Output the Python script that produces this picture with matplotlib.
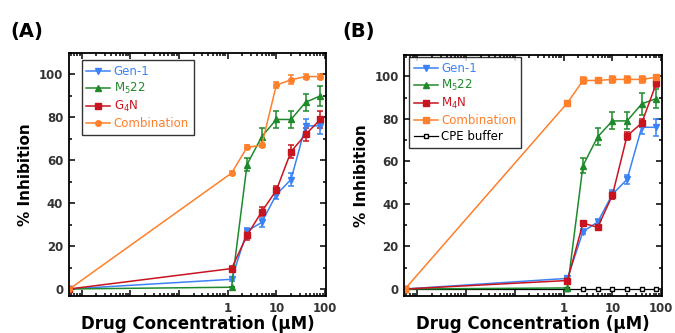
import numpy as np
import matplotlib
matplotlib.use("Agg")
import matplotlib.pyplot as plt
from matplotlib.ticker import LogLocator, MultipleLocator, FuncFormatter, NullFormatter

# concentrations (uM); the first point is "0", drawn at the left edge of the log axis
zero_pos = 0.00056
conc = [zero_pos, 1.2, 2.5, 5, 10, 20, 40, 80]

# panel A
gen1_a = [0, 4.5, 27, 31, 44, 51, 76, 76]
gen1_a_err = [0, 1, 1.5, 2, 2, 3, 3, 4]
m522_a = [0, 0.8, 58, 71, 79, 79, 87, 90]
m522_a_err = [0, 0, 3, 4, 4, 4, 4, 4.5]
g4n_a = [0, 9.5, 25, 36, 46, 64, 72, 79]
g4n_a_err = [0, 1, 2, 2, 2, 3, 3, 4]
combo_a = [0, 54, 66, 67, 95, 97.5, 99, 99]
combo_a_err = [0, 1, 1, 1, 1.5, 2, 1, 1]

# panel B
gen1_b = [0, 5, 27, 31.5, 44.5, 51.5, 76, 76]
gen1_b_err = [0, 1, 1, 1.5, 2, 2, 3, 4]
m522_b = [0, 0.5, 58, 71.5, 79, 79, 87, 89.5]
m522_b_err = [0, 0, 3.5, 4, 4, 4, 5, 4.5]
m4n_b = [0, 4, 31, 29, 44, 72, 78, 96.8]
m4n_b_err = [0, 1, 1, 1, 1.5, 2, 2, 2]
combo_b = [0, 87.5, 98, 98, 98.5, 98.5, 98.5, 99.5]
combo_b_err = [0, 1, 1.5, 1, 1.5, 1.5, 1.5, 1]
cpe_b = [0, 0, 0, 0, 0, 0, 0, 0]

blue = "#3b82f6"
green = "#1f8a2b"
red = "#c8141e"
orange = "#ff7f2a"

fig = plt.figure(figsize=(6.75, 3.33), dpi=100)
ax_a = fig.add_axes([0.102, 0.111, 0.381, 0.730])
ax_b = fig.add_axes([0.599, 0.111, 0.382, 0.724])


def draw_series(ax, y, err, color, marker, ms=4, mfc=None):
    eb = ax.errorbar(conc, y, yerr=err, color=color, marker=marker, ms=ms, lw=1.1,
                     elinewidth=1.1, capsize=2.5, capthick=1.1,
                     mfc=mfc if mfc else color, mec=color)
    return eb[0]


def style_axes(ax):
    ax.set_xscale("log")
    ax.set_xlim(zero_pos * 0.97, 105)
    ax.set_ylim(-3.3, 110)
    ax.xaxis.set_major_locator(LogLocator(base=10, numticks=20))
    ax.xaxis.set_minor_locator(LogLocator(base=10, subs=np.arange(2, 10), numticks=20))
    ax.xaxis.set_major_formatter(FuncFormatter(lambda v, p: f"{v:g}" if v >= 1 else ""))
    ax.xaxis.set_minor_formatter(NullFormatter())
    ax.set_yticks([0, 20, 40, 60, 80, 100])
    ax.yaxis.set_minor_locator(MultipleLocator(10))
    ax.tick_params(which="both", direction="in", top=True, right=True, width=1.1)
    ax.tick_params(which="major", length=4, labelsize=8.5, labelcolor="#333333", pad=4)
    ax.tick_params(which="minor", length=2.5)
    for lab in ax.get_xticklabels() + ax.get_yticklabels():
        lab.set_fontweight("bold")
    for sp in ax.spines.values():
        sp.set_linewidth(1.3)
    ax.set_ylabel("% Inhibition", fontsize=11, fontweight="bold", labelpad=4)
    ax.set_xlabel("Drug Concentration (\u00b5M)", fontsize=12, fontweight="bold", labelpad=0)


def add_legend(ax, handles, labels, colors, anchor):
    leg = ax.legend(handles, labels, loc="upper left", bbox_to_anchor=anchor, fontsize=8.5,
                    frameon=True, fancybox=False, edgecolor="black", handlelength=2.0,
                    handletextpad=0.3, labelspacing=0.25, borderpad=0.4, borderaxespad=0)
    leg.get_frame().set_linewidth(1.0)
    for txt, c in zip(leg.get_texts(), colors):
        txt.set_color(c)


# panel A
h = [draw_series(ax_a, gen1_a, gen1_a_err, blue, "v"),
     draw_series(ax_a, m522_a, m522_a_err, green, "^"),
     draw_series(ax_a, g4n_a, g4n_a_err, red, "s", ms=5),
     draw_series(ax_a, combo_a, combo_a_err, orange, "o")]
style_axes(ax_a)
add_legend(ax_a, h, ["Gen-1", "M$_5$22", "G$_4$N", "Combination"],
           [blue, green, red, orange], (0.05, 0.97))

# panel B
h = [draw_series(ax_b, gen1_b, gen1_b_err, blue, "v"),
     draw_series(ax_b, m522_b, m522_b_err, green, "^"),
     draw_series(ax_b, m4n_b, m4n_b_err, red, "s", ms=5),
     draw_series(ax_b, combo_b, combo_b_err, orange, "s")]
cpe_line, = ax_b.plot(conc, cpe_b, color="black", marker="s", ms=3.5, mfc="white",
                      mec="black", lw=0.9)
h.append(cpe_line)
style_axes(ax_b)
add_legend(ax_b, h, ["Gen-1", "M$_5$22", "M$_4$N", "Combination", "CPE buffer"],
           [blue, green, red, orange, "black"], (0.02, 0.99))

fig.text(0.015, 0.89, "(A)", fontsize=14, fontweight="bold")
fig.text(0.507, 0.89, "(B)", fontsize=14, fontweight="bold")

fig.savefig("out.png", dpi=100)
